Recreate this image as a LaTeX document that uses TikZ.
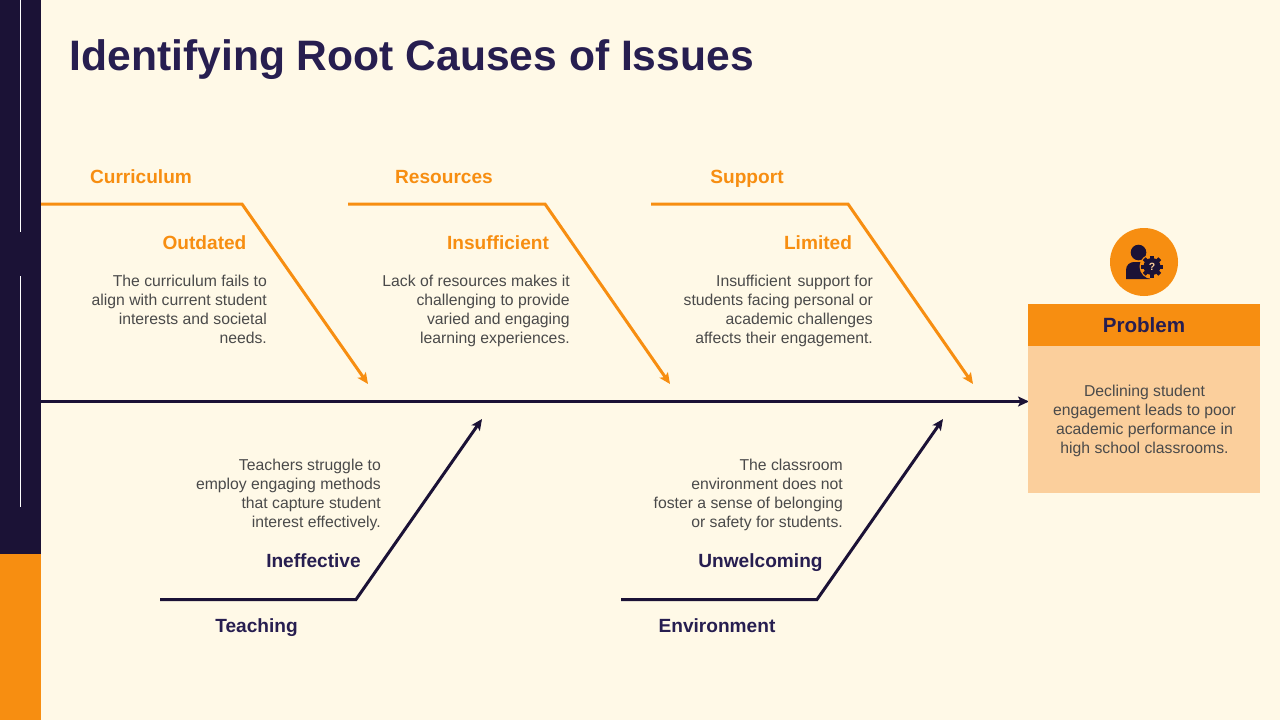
\documentclass[tikz,border=0pt]{standalone}
\usepackage{fontspec}
\setmainfont{Liberation Sans}
\usetikzlibrary{arrows.meta}
\definecolor{bgc}{HTML}{FFF9E7}
\definecolor{navy}{HTML}{1B1236}
\definecolor{orng}{HTML}{F78E11}
\definecolor{pale}{HTML}{FBCF9C}
\definecolor{ttl}{HTML}{271E50}
\definecolor{body}{HTML}{4A4A4A}
\tikzset{x=1pt,y=-1pt,
 ol/.style={draw=orng,line width=3pt,line join=miter},
 nl/.style={draw=navy,line width=3pt,line join=miter},
 tip/.style={-{Stealth[length=11pt,width=10pt,inset=2.5pt]}},
 cat/.style={font=\bfseries\fontsize{19.1}{22}\selectfont,inner sep=0pt,anchor=base},
 oc/.style={cat,text=orng},
 nc/.style={cat,text=ttl},
 desc/.style={font=\fontsize{15.75}{19}\selectfont,text=body,align=right,inner sep=0pt,anchor=north east},
}
\begin{document}
\begin{tikzpicture}
\useasboundingbox (0,0) rectangle (1280,720);
\fill[bgc] (0,0) rectangle (1280,720);
\fill[navy] (0,0) rectangle (41,554);
\fill[orng] (0,554) rectangle (41,720);
\draw[white,line width=0.8pt] (20.5,0) -- (20.5,232);
\draw[white,line width=0.8pt] (20.5,276) -- (20.5,507);
\node[font=\bfseries\fontsize{42.6}{50}\selectfont,text=ttl,anchor=base west,inner sep=0pt] (title) at (69.5,70) {Identifying Root Causes of Issues};

% spine
\coordinate (sS) at (41,401.5); \coordinate (sE) at (1029,401.5);
\draw[navy,line width=3pt,tip] (sS) -- (sE);

% upper bones
\coordinate (a1) at (41,204); \coordinate (a2) at (242,204); \coordinate (a3) at (368,384);
\coordinate (b1) at (348,204); \coordinate (b2) at (545,204); \coordinate (b3) at (670,384);
\coordinate (c1) at (651,204); \coordinate (c2) at (848,204); \coordinate (c3) at (973,384);
\draw[ol,tip] (a1) -- (a2) -- (a3);
\draw[ol,tip] (b1) -- (b2) -- (b3);
\draw[ol,tip] (c1) -- (c2) -- (c3);

% lower bones
\coordinate (d1) at (160,599.5); \coordinate (d2) at (356,599.5); \coordinate (d3) at (482,419);
\coordinate (e1) at (621,599.5); \coordinate (e2) at (817,599.5); \coordinate (e3) at (943,419);
\draw[nl,tip] (d1) -- (d2) -- (d3);
\draw[nl,tip] (e1) -- (e2) -- (e3);

% labels
\node[oc] (l1) at (141,183) {Curriculum};
\node[oc] (l2) at (444,183) {Resources};
\node[oc] (l3) at (747,183) {Support};
\node[oc] (h1) at (204.5,249) {Outdated};
\node[oc] (h2) at (498,249) {Insufficient};
\node[oc] (h3) at (818,249) {Limited};
\node[nc] (h4) at (313.5,567) {Ineffective};
\node[nc] (h5) at (760.5,567) {Unwelcoming};
\node[nc] (l4) at (256.5,632) {Teaching};
\node[nc] (l5) at (717,632) {Environment};

% descriptions
\node[desc] (t1) at (267,275) {The curriculum fails to\\align with current student\\interests and societal\\needs.};
\node[desc] (t2) at (570,275) {Lack of resources makes it\\challenging to provide\\varied and engaging\\learning experiences.};
\node[desc] (t3) at (873,275) {Insufficient\hspace{2pt} support for\\students facing personal or\\academic challenges\\affects their engagement.};
\node[desc] (t4) at (381,459) {Teachers struggle to\\employ engaging methods\\that capture student\\interest effectively.};
\node[desc] (t5) at (843,459) {The classroom\\environment does not\\foster a sense of belonging\\or safety for students.};

% problem box
\fill[pale] (1028,346) rectangle (1260,493);
\fill[orng] (1028,304) rectangle (1260,346);
\node[font=\bfseries\fontsize{20.6}{24}\selectfont,text=ttl,inner sep=0pt] (p) at (1144,325) {Problem};
\node[font=\fontsize{15.75}{19}\selectfont,text=body,align=center,inner sep=0pt,anchor=north] (pt) at (1144.5,385) {Declining student\\engagement leads to poor\\academic performance in\\high school classrooms.};

% icon
\fill[orng] (1144,262) circle (34);
\fill[navy] (1138.5,252.5) circle (7.8);
\fill[navy] (1126,279) -- (1126,270) .. controls (1126,265) and (1130,262) .. (1134,262) -- (1146,262) -- (1150,279) -- cycle;
\fill[orng] (1152,266.5) circle (12.5);
\fill[navy] (1152,266.5) circle (8.5);
\foreach \a in {0,45,...,315}{\fill[navy,shift={(1152,266.5)},rotate=\a] (-2,-11) rectangle (2,-7);}
\node[font=\bfseries\fontsize{10.5}{10.5}\selectfont,text=pale,inner sep=0pt] (q) at (1152,266.5) {?};
\end{tikzpicture}
\end{document}
